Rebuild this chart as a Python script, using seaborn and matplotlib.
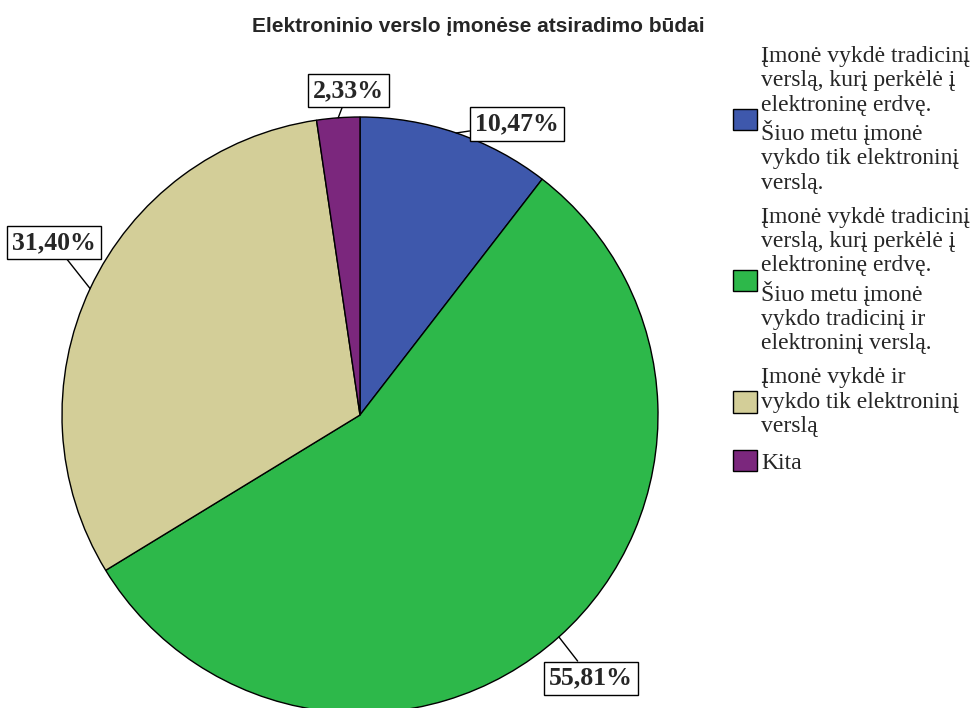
import numpy as np
import matplotlib
matplotlib.use("Agg")
import matplotlib.pyplot as plt
import seaborn as sns

# Data
categories = [
    "Įmonė vykdė tradicinį\nverslą, kurį perkėlė į\nelektroninę erdvę.\nŠiuo metu įmonė\nvykdo tik elektroninį\nverslą.",
    "Įmonė vykdė tradicinį\nverslą, kurį perkėlė į\nelektroninę erdvę.\nŠiuo metu įmonė\nvykdo tradicinį ir\nelektroninį verslą.",
    "Įmonė vykdė ir\nvykdo tik elektroninį\nverslą",
    "Kita",
]
percentages = [10.47, 55.81, 31.40, 2.33]
colors = ["#3e58ac", "#2db84a", "#d3ce98", "#7b277d"]
title = "Elektroninio verslo įmonėse atsiradimo būdai"

# label placement tweaks (radius factor, angle shift in degrees)
label_r = [1.11, 1.175, 1.18, 1.09]
label_shift = [-9.5, -0.6, -4.3, -2.2]

sns.set_theme(style="white")
plt.rcParams["font.family"] = ["Liberation Serif", "DejaVu Serif"]

W, H = 972, 708
fig = plt.figure(figsize=(W / 100, H / 100), dpi=100)
cx, cy, r = 360, 415, 298
ax = fig.add_axes([(cx - r) / W, (H - cy - r) / H, 2 * r / W, 2 * r / H])

wedges, _ = ax.pie(percentages, colors=colors, startangle=90, counterclock=False,
                   radius=1, wedgeprops=dict(edgecolor="black", linewidth=1.0))
ax.set_xlim(-1, 1)
ax.set_ylim(-1, 1)
ax.axis("off")
for w in wedges:
    w.set_clip_on(False)

for i, w in enumerate(wedges):
    mid = np.deg2rad((w.theta1 + w.theta2) / 2)
    ang = mid + np.deg2rad(label_shift[i])
    tx, ty = label_r[i] * np.cos(ang), label_r[i] * np.sin(ang)
    ax.annotate(f"{percentages[i]:.2f}%".replace(".", ","),
                xy=(np.cos(mid), np.sin(mid)), xytext=(tx, ty),
                ha="center", va="center", fontsize=18.5, fontweight="bold",
                bbox=dict(boxstyle="square,pad=0.2", fc="white", ec="black", lw=1.0),
                arrowprops=dict(arrowstyle="-", color="black", lw=1.0, shrinkA=0, shrinkB=0),
                annotation_clip=False)

fig.text(478 / W, 1 - 27 / H, title, ha="center", va="center", fontsize=15,
         fontweight="bold", family=["Liberation Sans", "DejaVu Sans"])

leg = fig.legend(wedges, categories, loc="upper left", bbox_to_anchor=(733 / W, 1 - 46 / H),
                 frameon=False, prop=dict(family="Liberation Serif", size=17),
                 handlelength=1.0, handleheight=1.0, handletextpad=0.2,
                 labelspacing=0.55, borderaxespad=0, borderpad=0)
for t in leg.get_texts():
    t.set_linespacing(1.21)
for h in leg.legend_handles:
    h.set_edgecolor("black")

fig.savefig("out.png", dpi=100)
